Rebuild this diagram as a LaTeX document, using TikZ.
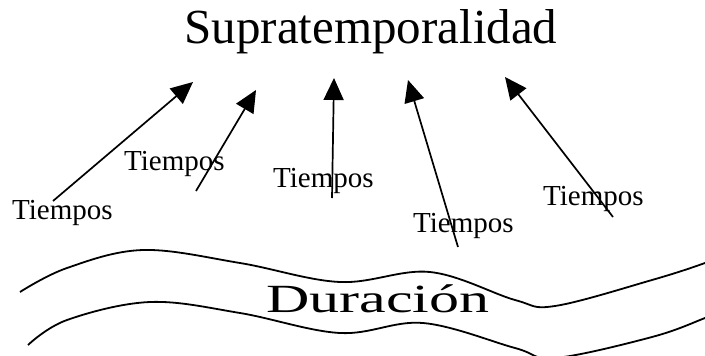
\documentclass[tikz,border=0pt]{standalone}
\usepackage{fontspec}
\setmainfont{Liberation Serif}
\usetikzlibrary{arrows.meta}

\begin{document}
\begin{tikzpicture}[x=1pt, y=-1pt,
    tiempo/.style ={anchor=base west, inner sep=0pt, font=\fontsize{29}{32}\selectfont},
    flecha/.style ={line width=1.7pt, -{Triangle[length=22pt, width=20pt]}},
    onda/.style ={line width=1.8pt}]
   \clip (0,0) rectangle (705,356);
   \node[anchor=base, inner sep=0pt, font=\fontsize{49}{55}\selectfont] (supra) at (371,43) {Supratemporalidad};
   % los tiempos
   \node[tiempo] (t1) at (12,219) {Tiempos};
   \node[tiempo] (t2) at (124,170) {Tiempos};
   \node[tiempo] (t3) at (273,187) {Tiempos};
   \node[tiempo] (t4) at (413,232) {Tiempos};
   \node[tiempo] (t5) at (543,205) {Tiempos};
   % flechas
   \coordinate (c1) at (53,201);  \coordinate (p1) at (193,82);
   \coordinate (c2) at (196,191); \coordinate (p2) at (256,90);
   \coordinate (c3) at (332,198); \coordinate (p3) at (334,78);
   \coordinate (c4) at (458,247); \coordinate (p4) at (408,80);
   \coordinate (c5) at (613,217); \coordinate (p5) at (505,77);
   \draw[flecha] (c1) -- (p1);
   \draw[flecha] (c2) -- (p2);
   \draw[flecha] (c3) -- (p3);
   \draw[flecha] (c4) -- (p4);
   \draw[flecha] (c5) -- (p5);
   % la duracion
   \draw[onda] plot[smooth, tension=0.6] coordinates {(20,292) (67,268) (143,250) (240,263) (340,282) (430,272) (515,300) (555,306) (652,280) (705,263) (725,254)};
   \draw[onda] plot[smooth, tension=0.6] coordinates {(28,345) (67,320) (150,302) (240,313) (340,333) (423,323) (515,348) (555,358) (652,337) (705,318) (725,309)};
   \node[anchor=base west, inner sep=0pt, xscale=1.5, font=\fontsize{40}{44}\selectfont] (dur) at (266,312) {Duración};
\end{tikzpicture}
\end{document}
